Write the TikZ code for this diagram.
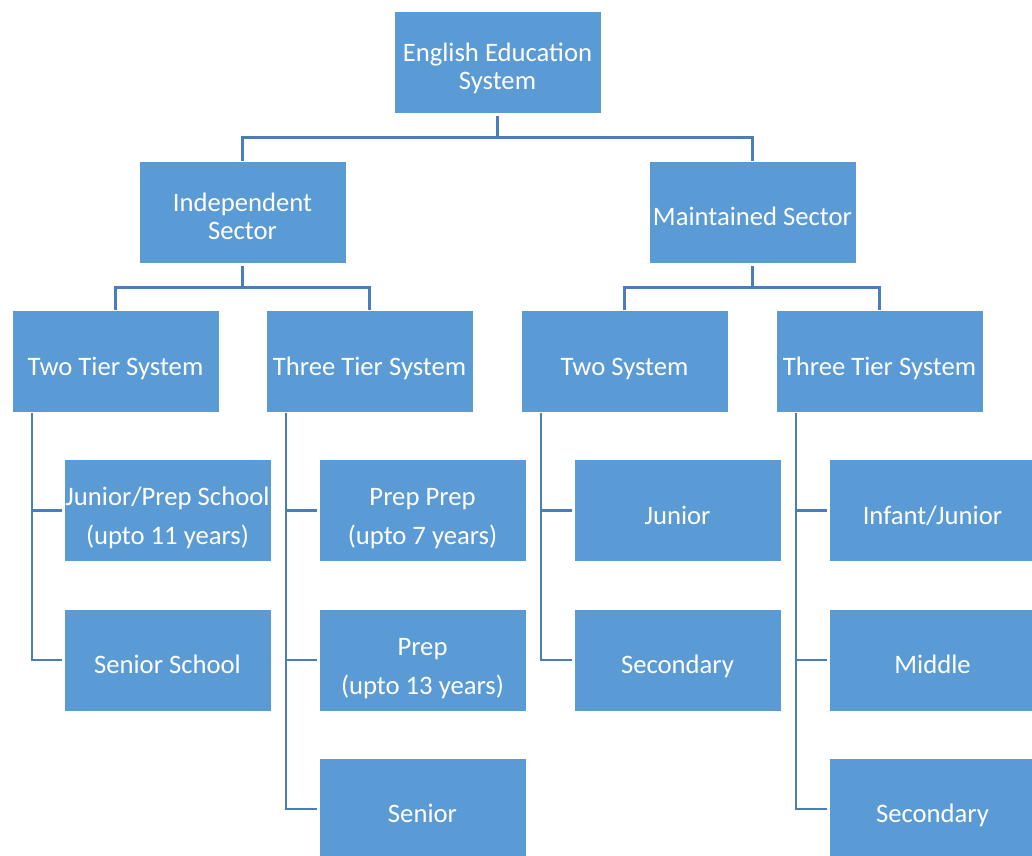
\documentclass[tikz,border=0pt]{standalone}
\usepackage{fontspec}
\setmainfont{Carlito}
\definecolor{boxblue}{HTML}{5B9BD5}
\definecolor{linkblue}{HTML}{4A7EBB}
\newcommand{\bt}[1]{\raisebox{-6pt}[\height][\depth]{\begin{tabular}{@{}c@{}}#1\end{tabular}}}
\newcommand{\btt}[2]{\raisebox{-7pt}[\height][\depth]{\begin{tabular}{@{}c@{}}#1\\[8.25pt]#2\end{tabular}}}
\begin{document}
\begin{tikzpicture}[x=0.75pt,y=-0.75pt,
  box/.style={rectangle, fill=boxblue, draw=white, line width=0.5pt,
    minimum width=155.25pt, minimum height=76.5pt, inner sep=0pt,
    text=white, font=\fontsize{20}{21}\selectfont},
  link/.style={draw=linkblue, line width=1.7pt}]
\useasboundingbox (0,0) rectangle (1032,856);
\fill[white] (0,0) rectangle (1032,856);
% level 0
\node[box] (root) at (497.5,62) {\bt{English Education\\System}};
% level 1
\node[box] (ind) at (242.5,212) {\bt{Independent\\Sector}};
\node[box] (main) at (752.5,212) {\bt{Maintained Sector}};
% level 2
\node[box] (twoT) at (115.5,361.5) {\bt{Two Tier System}};
\node[box] (threeL) at (369.5,361.5) {\bt{Three Tier System}};
\node[box] (twoS) at (624.5,361.5) {\bt{Two System}};
\node[box] (threeR) at (879.5,361.5) {\bt{Three Tier System}};
% level 3
\node[box] (a1) at (167.5,510.5) {\btt{Junior/Prep School}{(upto 11 years)}};
\node[box] (a2) at (167.5,660) {\bt{Senior School}};
\node[box] (b1) at (422.5,510.5) {\btt{Prep Prep}{(upto 7 years)}};
\node[box] (b2) at (422.5,660) {\btt{Prep}{(upto 13 years)}};
\node[box] (b3) at (422.5,809) {\bt{Senior}};
\node[box] (c1) at (677.5,510.5) {\bt{Junior}};
\node[box] (c2) at (677.5,660) {\bt{Secondary}};
\node[box] (d1) at (932.5,510.5) {\bt{Infant/Junior}};
\node[box] (d2) at (932.5,660) {\bt{Middle}};
\node[box] (d3) at (932.5,809) {\bt{Secondary}};
% connectors
\draw[link] ([yshift=-2pt]root.south) -- ++(0,21.5) coordinate (r0);
\draw[link] (ind.north) |- (r0) -| (main.north);
\draw[link] ([yshift=-2pt]ind.south) -- ++(0,21.5) coordinate (i0);
\draw[link] (twoT.north) |- (i0) -| (threeL.north);
\draw[link] ([yshift=-2pt]main.south) -- ++(0,21.5) coordinate (m0);
\draw[link] (twoS.north) |- (m0) -| (threeR.north);
% rails
\draw[link] ([xshift=15pt,yshift=-2pt]twoT.south west) |- ([xshift=-1.5pt]a2.west);
\draw[link] ([xshift=15pt]twoT.south west) |- ([xshift=-1.5pt]a1.west);
\draw[link] ([xshift=15pt,yshift=-2pt]threeL.south west) |- ([xshift=-1.5pt]b3.west);
\draw[link] ([xshift=15pt]threeL.south west) |- ([xshift=-1.5pt]b1.west);
\draw[link] ([xshift=15pt]threeL.south west) |- ([xshift=-1.5pt]b2.west);
\draw[link] ([xshift=15pt,yshift=-2pt]twoS.south west) |- ([xshift=-1.5pt]c2.west);
\draw[link] ([xshift=15pt]twoS.south west) |- ([xshift=-1.5pt]c1.west);
\draw[link] ([xshift=15pt,yshift=-2pt]threeR.south west) |- ([xshift=-1.5pt]d3.west);
\draw[link] ([xshift=15pt]threeR.south west) |- ([xshift=-1.5pt]d1.west);
\draw[link] ([xshift=15pt]threeR.south west) |- ([xshift=-1.5pt]d2.west);
\end{tikzpicture}
\end{document}
